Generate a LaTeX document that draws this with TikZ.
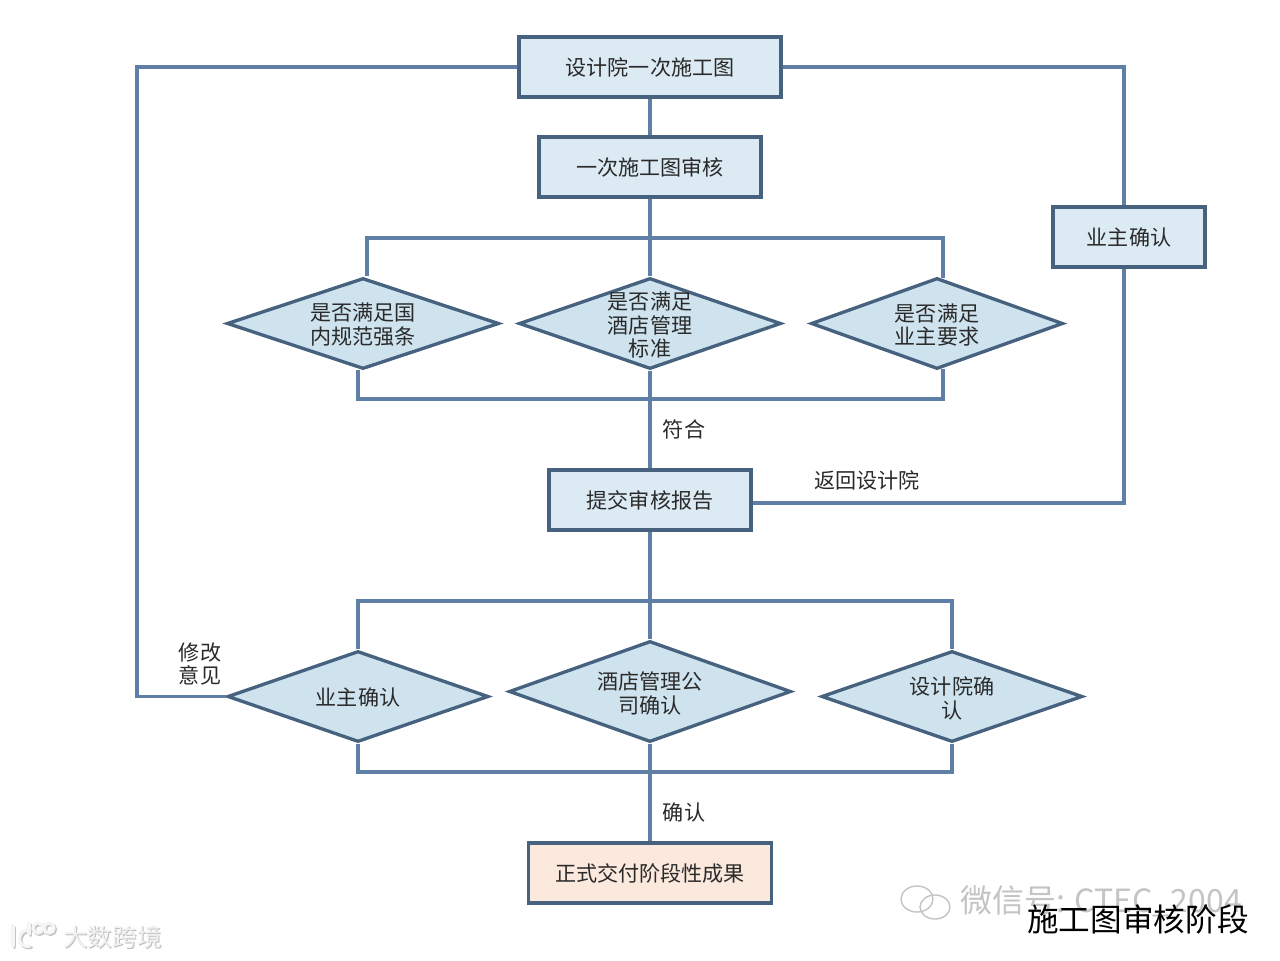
\documentclass[tikz,border=0pt]{standalone}
\usepackage{fontspec}
\setmainfont{Noto Sans CJK SC}[Scale=1]
\usetikzlibrary{shapes.geometric,calc}
\definecolor{boxfill}{HTML}{DCEAF4}
\definecolor{diafill}{HTML}{CFE3EF}
\definecolor{endfill}{HTML}{FBE9DD}
\definecolor{edge}{HTML}{46627F}
\definecolor{wire}{HTML}{5F7FA6}
\definecolor{ink}{HTML}{2A2A2A}
\definecolor{wm}{HTML}{C4C4C4}
\tikzset{
 x=0.02cm,y=-0.02cm,
 lab/.style={font=\fontsize{12}{13.6}\selectfont,text=ink,align=center,inner sep=0pt},
 boxn/.style={draw=edge,fill=boxfill,line width=2.1pt,inner sep=0pt,lab},
 dia/.style={diamond,draw=edge,fill=diafill,line width=1.9pt,inner sep=0pt},
 wire/.style={draw=wire,line width=1.9pt},
}
\begin{document}
\begin{tikzpicture}
\useasboundingbox (0,0) rectangle (1280,960);
\fill[white] (0,0) rectangle (1280,960);
% connectors' named turning points
\coordinate (lefttop) at (137,67);
\coordinate (leftbot) at (137,696.5);
\coordinate (righttop) at (1124,67);
\coordinate (rightbot) at (1124,503);
\coordinate (bus1l) at (367,238);
\coordinate (bus1r) at (943,238);
\coordinate (bus2l) at (358,399);
\coordinate (bus2r) at (943,399);
\coordinate (bus3l) at (358,601);
\coordinate (bus3r) at (952,601);
\coordinate (bus4l) at (358,772);
\coordinate (bus4r) at (952,772);
% boxes
\node[boxn,minimum width=262*0.02cm,minimum height=60*0.02cm] (design) at (650,67) {设计院一次施工图};
\node[boxn,minimum width=222*0.02cm,minimum height=60*0.02cm] (review) at (650,167) {一次施工图审核};
\node[boxn,minimum width=152*0.02cm,minimum height=60*0.02cm] (owner) at (1129,237) {业主确认};
\node[boxn,minimum width=202*0.02cm,minimum height=60*0.02cm] (report) at (650,500) {提交审核报告};
\node[boxn,fill=endfill,minimum width=243*0.02cm,minimum height=60*0.02cm] (final) at (650,873) {正式交付阶段性成果};
% diamonds
\node[dia,minimum width=272*0.02cm,minimum height=91*0.02cm,shape aspect=2.99] (d1) at (363,323.5) {};
\node[dia,minimum width=262*0.02cm,minimum height=91*0.02cm,shape aspect=2.88] (d2) at (650,323.5) {};
\node[dia,minimum width=252*0.02cm,minimum height=91*0.02cm,shape aspect=2.77] (d3) at (937,323.5) {};
\node[dia,minimum width=261*0.02cm,minimum height=91*0.02cm,shape aspect=2.87] (d4) at (358,696.5) {};
\node[dia,minimum width=282*0.02cm,minimum height=101*0.02cm,shape aspect=2.79] (d5) at (650,691.5) {};
\node[dia,minimum width=261*0.02cm,minimum height=91*0.02cm,shape aspect=2.87] (d6) at (952,696.5) {};
\node[lab] (d1t) at (363,325) {是否满足国\\内规范强条};
\node[lab] (d2t) at (650,325) {是否满足\\酒店管理\\标准};
\node[lab] (d3t) at (937,325) {是否满足\\业主要求};
\node[lab] (d4t) at (358,697) {业主确认};
\node[lab] (d5t) at (650,693) {酒店管理公\\司确认};
\node[lab] (d6t) at (952,698) {设计院确\\认};
% labels
\node[lab] (l1) at (684,429) {符合};
\node[lab] (l2) at (867,480) {返回设计院};
\node[lab] (l3) at (200,664) {修改\\意见};
\node[lab] (l4) at (684,812) {确认};
% connectors
\draw[wire] (design.south) -- (review.north);
\draw[wire] (review.south) -- (d2.north);
\draw[wire] (design.west) -- (lefttop) -- (leftbot) -- (d4.west);
\draw[wire] (design.east) -- (righttop) -- (owner.north -| righttop);
\draw[wire] ($(report.east)+(0,3)$) -- (rightbot) -- (owner.south -| rightbot);
\draw[wire] (d1.north -| bus1l) -- (bus1l) -- (bus1r) -- ($(d3.north -| bus1r)+(0,2)$);
\draw[wire] ($(d1.south -| bus2l)+(0,-1)$) -- (bus2l) -- (bus2r) -- ($(d3.south -| bus2r)+(0,-2)$);
\draw[wire] (d2.south) -- (report.north);
\draw[wire] (report.south) -- (d5.north);
\draw[wire] (d4.north) -- (bus3l) -- (bus3r) -- (d6.north);
\draw[wire] (d4.south) -- (bus4l) -- (bus4r) -- (d6.south);
\draw[wire] (d5.south) -- (final.north);
% watermarks
\begin{scope}[draw=wm,line width=0.8pt,fill=white]
\draw (917,899) ellipse (16 and 13);
\draw (935,907) ellipse (15 and 12);
\end{scope}
\node[font=\fontsize{18.2}{20}\selectfont,text=wm,anchor=west,inner sep=0pt] (wmtext) at (960,901) {微信号: CTEC\_2004};
\node[font=\fontsize{18}{20}\selectfont,text=black,anchor=center,inner sep=0pt] (title) at (1138,919) {施工图审核阶段};
% lower-left logo
\foreach \o/\c in {1.5/gray!45,0/gray!8}{
 \begin{scope}[shift={(\o,\o)},draw=\c,line width=1.8pt,line cap=round]
 \draw (13,926) -- (13,946);
 \draw (30,930) .. controls (17,928) and (15,949) .. (30,946);
 \draw (29,923) -- (29,934);
 \draw (38,928) circle (5);
 \draw (49,928) circle (5);
 \end{scope}
}
\node[font=\fontsize{14}{16}\selectfont,text=gray!50,inner sep=0pt] (wm2s) at (113.5,938.5) {大数跨境};
\node[font=\fontsize{14}{16}\selectfont,text=gray!12,inner sep=0pt] (wm2) at (112.5,937.5) {大数跨境};
\end{tikzpicture}
\end{document}
